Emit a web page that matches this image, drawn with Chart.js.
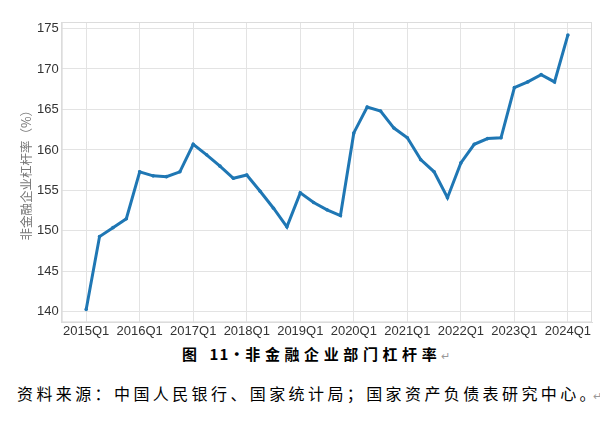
<!DOCTYPE html>
<html lang="zh">
<head>
    <meta charset="UTF-8">
    <title>非金融企业部门杠杆率</title>
    <script src="https://cdn.jsdelivr.net/npm/chart.js"></script>
    <style>
        body {
            margin: 0;
            width: 600px;
            height: 427px;
            background: #fff;
            position: relative;
            overflow: hidden;
        }
        #wrap {
            position: absolute;
            left: 0;
            top: 0;
            width: 600px;
            height: 340px;
        }
        .caption {
            position: absolute;
            top: 343px;
            left: 182px;
            white-space: nowrap;
            font-family: "Noto Sans CJK SC", sans-serif;
            font-weight: bold;
            font-size: 15px;
            letter-spacing: 4.6px;
            color: #000;
        }
        .caption .num {
            letter-spacing: 1px;
        }
        .source {
            position: absolute;
            top: 381px;
            left: 17px;
            white-space: nowrap;
            font-family: "Noto Sans CJK SC", sans-serif;
            font-size: 16px;
            letter-spacing: 3.4px;
            color: #000;
        }
        .mark {
            color: #999;
            font-weight: normal;
            font-size: 11px;
            letter-spacing: 0;
        }
        .source .mark {
            margin-left: -6px;
        }
    </style>
</head>
<body>
    <div id="wrap"><canvas id="leverChart"></canvas></div>
    <div class="caption">图 <span class="num">11·</span>非金融企业部门杠杆率<span class="mark">↵</span></div>
    <div class="source">资料来源：中国人民银行、国家统计局；国家资产负债表研究中心。<span class="mark">↵</span></div>

    <script>
        // quarters 2015Q1 .. 2024Q1
        const quarters = [
            '2015Q1', '2015Q2', '2015Q3', '2015Q4',
            '2016Q1', '2016Q2', '2016Q3', '2016Q4',
            '2017Q1', '2017Q2', '2017Q3', '2017Q4',
            '2018Q1', '2018Q2', '2018Q3', '2018Q4',
            '2019Q1', '2019Q2', '2019Q3', '2019Q4',
            '2020Q1', '2020Q2', '2020Q3', '2020Q4',
            '2021Q1', '2021Q2', '2021Q3', '2021Q4',
            '2022Q1', '2022Q2', '2022Q3', '2022Q4',
            '2023Q1', '2023Q2', '2023Q3', '2023Q4',
            '2024Q1'
        ];

        // leverage ratio (%)
        const leverage = [
            140.3, 149.3, 150.4, 151.5,
            157.3, 156.8, 156.7, 157.3,
            160.7, 159.4, 158.0, 156.5,
            156.9, 154.9, 152.8, 150.5,
            154.7, 153.5, 152.6, 151.9,
            162.1, 165.3, 164.8, 162.7,
            161.5, 158.8, 157.3, 154.1,
            158.4, 160.7, 161.4, 161.5,
            167.7, 168.4, 169.3, 168.4,
            174.2
        ];

        const yTicks = [140, 145, 150, 155, 160, 165, 170, 175];

        // frame round the plot area
        const framePlugin = {
            id: 'frame',
            afterDraw(chart) {
                const a = chart.chartArea;
                const c = chart.ctx;
                c.save();
                c.strokeStyle = '#dcdcdc';
                c.lineWidth = 1;
                c.strokeRect(a.left + 0.5, a.top + 0.5, a.right - a.left - 1, a.bottom - a.top - 1);
                c.restore();
            }
        };

        const ctx = document.getElementById('leverChart').getContext('2d');
        new Chart(ctx, {
            type: 'line',
            data: {
                datasets: [{
                    label: '非金融企业杠杆率',
                    data: leverage.map((v, i) => ({ x: i, y: v })),
                    borderColor: '#1f77b4',
                    backgroundColor: '#1f77b4',
                    borderWidth: 3,
                    pointRadius: 1.8,
                    pointBorderWidth: 0,
                    pointHoverRadius: 3,
                    tension: 0,
                    fill: false
                }]
            },
            options: {
                responsive: true,
                maintainAspectRatio: false,
                animation: false,
                layout: {
                    padding: { top: 22, right: 8, bottom: 0, left: 19 }
                },
                scales: {
                    x: {
                        type: 'linear',
                        min: -1.83,
                        max: 37.8,
                        afterBuildTicks(axis) {
                            const t = [];
                            for (let i = 0; i < quarters.length; i += 4) t.push({ value: i });
                            axis.ticks = t;
                        },
                        ticks: {
                            autoSkip: false,
                            maxRotation: 0,
                            padding: 1,
                            color: '#333',
                            font: { family: 'Arial, "Liberation Sans", sans-serif', size: 13 },
                            callback: (v) => quarters[v]
                        },
                        grid: { color: '#e3e3e3', tickLength: 0 },
                        border: { color: '#dcdcdc' }
                    },
                    y: {
                        min: 138.7,
                        max: 175.8,
                        afterBuildTicks(axis) {
                            axis.ticks = yTicks.map(v => ({ value: v }));
                        },
                        ticks: {
                            padding: 3,
                            color: '#333',
                            font: { family: 'Arial, "Liberation Sans", sans-serif', size: 13 }
                        },
                        grid: { color: '#e3e3e3', tickLength: 0 },
                        border: { color: '#dcdcdc' },
                        title: {
                            display: true,
                            text: '非金融企业杠杆率（%）',
                            color: '#777',
                            padding: { top: 0, bottom: 0 },
                            font: { family: '"Noto Sans CJK SC", sans-serif', size: 12.5 }
                        }
                    }
                },
                plugins: {
                    legend: { display: false },
                    tooltip: { enabled: true }
                }
            },
            plugins: [framePlugin]
        });
    </script>
</body>
</html>
